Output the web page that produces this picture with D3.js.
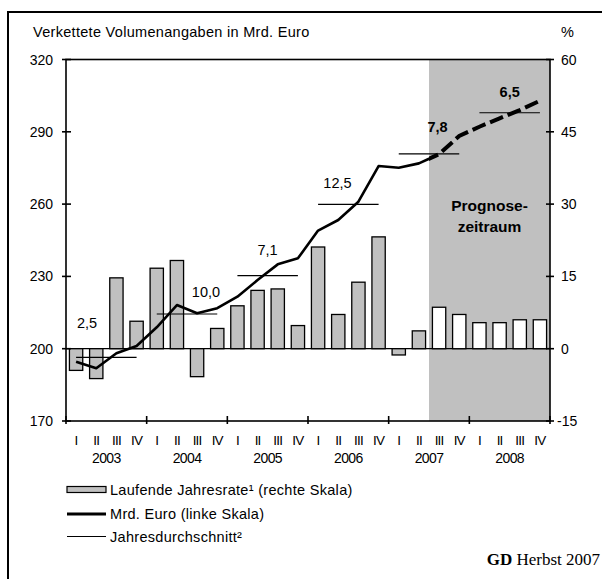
<!DOCTYPE html>
<html><head><meta charset="utf-8">
<script src="https://cdn.jsdelivr.net/npm/d3@7"></script>
<style>body{margin:0;background:#fff}svg{display:block}text{font-family:"Liberation Sans",Arial,sans-serif;fill:#000}</style>
</head><body><svg id="c" width="602" height="579"></svg>
<script>
// ---- data ----
const years = ["2003","2004","2005","2006","2007","2008"];
const quarterLabels = ["I","II","III","IV"];
// laufende Jahresrate (%; right axis), 24 quarters 2003Q1..2008Q4
const rate = [-4.5,-6.2,14.7,5.7, 16.7,18.3,-5.8,4.2, 8.9,12.1,12.4,4.8, 21.1,7.1,13.8,23.2, -1.3,3.7,8.6,7.1, 5.4,5.4,6.0,6.0];
// Mrd. Euro (left axis)
const level = [194.6,191.9,198.1,201.1, 208.9,218.1,214.7,216.8, 221.6,228.5,235.0,237.5, 249.0,253.4,261.0,275.8, 275.1,276.9,280.7,288.3, 292.1,295.6,299.0,302.9];
// Jahresdurchschnitt (left axis)
const yearAvg = [196.4,214.4,230.3,259.9,280.8,297.9];
const yearGrowth = ["2,5","10,0","7,1","12,5","7,8","6,5"];
const growthBold = [false,false,false,false,true,true];
const growthAnchorQ = [0.54,6.44,9.49,12.96,17.92,21.5];   // quarter-index units
const growthAnchorV = [210.7,223.5,241,268.8,292,306.5];   // left-axis units
const forecastStart = 18; // 2007 Q3
const leftTicks = [170,200,230,260,290,320];
const rightTicks = [-15,0,15,30,45,60];

// ---- layout ----
const svg = d3.select("#c");
const X0 = 66, X1 = 550, Y0 = 59.5, Y1 = 421;
const xi = d3.scaleLinear().domain([0,24]).range([X0,X1]);
const yL = d3.scaleLinear().domain([170,320]).range([Y1,Y0]);
const yR = d3.scaleLinear().domain([-15,60]).range([Y1,Y0]);
const qc = i => xi(i+0.5);
const step = xi(1)-xi(0);
const bw = step*0.66;

// frame
svg.append("rect").attr("x",8).attr("y",12).attr("width",620).attr("height",600)
  .attr("fill","none").attr("stroke","#000").attr("stroke-width",2);

// forecast shading
svg.append("rect").attr("x",xi(forecastStart)).attr("y",Y0).attr("width",X1-xi(forecastStart)).attr("height",Y1-Y0)
  .attr("fill","#c0c0c0");

svg.append("text").attr("x",33).attr("y",37).attr("font-size",14.5).attr("letter-spacing",0.3).text("Verkettete Volumenangaben in Mrd. Euro");
svg.append("text").attr("x",561).attr("y",37).attr("font-size",14.5).text("%");

// zero line
svg.append("line").attr("x1",X0).attr("x2",X1).attr("y1",yR(0)).attr("y2",yR(0)).attr("stroke","#000").attr("stroke-width",1.3);

// bars
svg.append("g").selectAll("rect").data(rate).join("rect")
  .attr("x",(d,i)=>qc(i)-bw/2).attr("width",bw)
  .attr("y",d=>yR(Math.max(0,d))).attr("height",d=>Math.abs(yR(d)-yR(0)))
  .attr("fill",(d,i)=> i>=forecastStart ? "#fff" : "#c0c0c0")
  .attr("stroke","#000").attr("stroke-width",1.3);

// year averages
svg.append("g").selectAll("line").data(yearAvg).join("line")
  .attr("x1",(d,i)=>qc(i*4)).attr("x2",(d,i)=>qc(i*4+3))
  .attr("y1",d=>yL(d)).attr("y2",d=>yL(d)).attr("stroke","#000").attr("stroke-width",1.2);

// level line
const defs = svg.append("defs");
defs.append("clipPath").attr("id","hist").append("rect").attr("x",0).attr("y",0).attr("width",xi(forecastStart)).attr("height",579);
defs.append("clipPath").attr("id","fc").append("rect").attr("x",xi(forecastStart)).attr("y",0).attr("width",602).attr("height",579);
const ln = d3.line().x((d,i)=>qc(i)).y(d=>yL(d));
svg.append("path").attr("d",ln(level)).attr("fill","none").attr("stroke","#000").attr("stroke-width",2.6)
  .attr("stroke-linejoin","round").attr("clip-path","url(#hist)");
svg.append("path").attr("d",ln(level)).attr("fill","none").attr("stroke","#000").attr("stroke-width",4)
  .attr("stroke-dasharray","14,5").attr("clip-path","url(#fc)");

// growth labels
years.forEach((y,i)=>{
  svg.append("text").attr("x",xi(growthAnchorQ[i]+0.5)).attr("y",yL(growthAnchorV[i])+5)
    .attr("text-anchor","middle").attr("font-size",14.5).attr("font-weight",growthBold[i]?"bold":"normal").text(yearGrowth[i]);
});
const pcx = (xi(forecastStart)+X1)/2;
svg.append("text").attr("x",pcx).attr("y",211).attr("text-anchor","middle").attr("font-size",15.5).attr("font-weight","bold").text("Prognose-");
svg.append("text").attr("x",pcx).attr("y",232).attr("text-anchor","middle").attr("font-size",15.5).attr("font-weight","bold").text("zeitraum");

// axes
const ax = svg.append("g").attr("stroke","#000").attr("stroke-width",1.6);
ax.append("rect").attr("x",X0).attr("y",Y0).attr("width",X1-X0).attr("height",Y1-Y0).attr("fill","none");
leftTicks.forEach(t=>{
  ax.append("line").attr("x1",X0-4).attr("x2",X0+5).attr("y1",yL(t)).attr("y2",yL(t));
  svg.append("text").attr("x",53).attr("y",yL(t)+5).attr("text-anchor","end").attr("font-size",14).text(t);
});
rightTicks.forEach(t=>{
  ax.append("line").attr("x1",X1-4).attr("x2",X1+4).attr("y1",yR(t)).attr("y2",yR(t));
  svg.append("text").attr("x",t<0?557:561).attr("y",yR(t)+5).attr("font-size",14).text(t);
});
d3.range(0,25,4).forEach(i=>{
  ax.append("line").attr("x1",xi(i)).attr("x2",xi(i)).attr("y1",Y1-5).attr("y2",Y1+3);
});
d3.range(24).forEach(i=>{
  svg.append("text").attr("x",qc(i)).attr("y",445).attr("text-anchor","middle").attr("font-size",13.5)
    .attr("letter-spacing",-0.8).text(quarterLabels[i%4]);
});
years.forEach((y,i)=>{
  svg.append("text").attr("x",xi(i*4+2)).attr("y",463).attr("text-anchor","middle").attr("font-size",14)
    .attr("letter-spacing",-0.6).text(y);
});

// legend
const lx = 67, lx2 = 106, tx = 110;
svg.append("rect").attr("x",lx).attr("y",486.5).attr("width",lx2-lx).attr("height",6).attr("fill","#c0c0c0").attr("stroke","#000").attr("stroke-width",1.2);
svg.append("text").attr("x",tx).attr("y",494.5).attr("font-size",14.5).attr("letter-spacing",0.3).text("Laufende Jahresrate¹ (rechte Skala)");
svg.append("line").attr("x1",lx).attr("x2",lx2).attr("y1",514).attr("y2",514).attr("stroke","#000").attr("stroke-width",3);
svg.append("text").attr("x",tx).attr("y",519).attr("font-size",14.5).attr("letter-spacing",0.3).text("Mrd. Euro (linke Skala)");
svg.append("line").attr("x1",lx).attr("x2",lx2).attr("y1",536.5).attr("y2",536.5).attr("stroke","#000").attr("stroke-width",1.2);
svg.append("text").attr("x",tx).attr("y",541.5).attr("font-size",14.5).attr("letter-spacing",0.3).text("Jahresdurchschnitt²");

const gd = svg.append("text").attr("x",600).attr("y",565).attr("text-anchor","end").attr("font-size",17)
  .style("font-family","'Liberation Serif','Times New Roman',serif");
gd.append("tspan").attr("font-weight","bold").text("GD");
gd.append("tspan").text(" Herbst 2007");
</script></body></html>
